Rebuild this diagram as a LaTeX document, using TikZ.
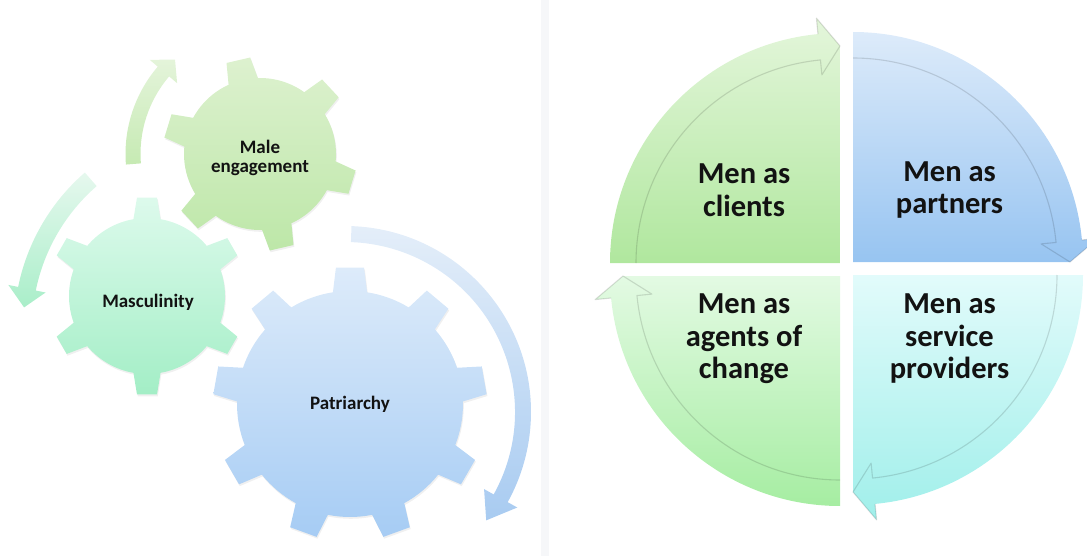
\documentclass[tikz,border=0pt]{standalone}
\usepackage{fontspec}
\setmainfont{Carlito}
\usetikzlibrary{shadows}

\definecolor{sepstrip}{HTML}{F6F7F9}
\definecolor{txt}{HTML}{121212}
% gears
\definecolor{meTop}{HTML}{DDF1CF}
\definecolor{meBot}{HTML}{BDE7A8}
\definecolor{maTop}{HTML}{DDFAEC}
\definecolor{maBot}{HTML}{A3EEC6}
\definecolor{paTop}{HTML}{DDEBFA}
\definecolor{paBot}{HTML}{A6CCF4}
% arrows beside the gears
\definecolor{meArTop}{HTML}{E4F4DA}
\definecolor{meArBot}{HTML}{C6EAB3}
\definecolor{maArTop}{HTML}{E6F8EE}
\definecolor{maArBot}{HTML}{A9EEC9}
\definecolor{paArTop}{HTML}{E4EEF9}
\definecolor{paArBot}{HTML}{A8CBF1}
% quadrants
\definecolor{q1Top}{HTML}{E4F6DB}
\definecolor{q1Bot}{HTML}{B0E79E}
\definecolor{q2Top}{HTML}{DDEBFA}
\definecolor{q2Bot}{HTML}{97C4F1}
\definecolor{q3Top}{HTML}{E2FBFB}
\definecolor{q3Bot}{HTML}{A0EFEA}
\definecolor{q4Top}{HTML}{E3FAE3}
\definecolor{q4Bot}{HTML}{A6EDA2}

\tikzset{
  gearlabel/.style={font=\bfseries\fontsize{19}{19}\selectfont, text=txt, align=center, inner sep=0pt},
  quadlabel/.style={font=\bfseries\fontsize{30.5}{32.5}\selectfont, text=txt, align=center, inner sep=0pt},
  rimline/.style={draw=black, draw opacity=0.13, line width=1.1pt, line join=round},
  gearshadow/.style={drop shadow={opacity=0.12, shadow xshift=0.8pt, shadow yshift=-1.8pt}},
}

% gear: centre x, centre y, teeth, tip radius, root radius,
% tip half-angle, root half-angle, first tooth angle, fill options
\newcommand{\gearshape}[9]{%
  \begin{scope}[shift={(#1,#2)}]
    \path[#9] ({#8-#7}:#5)
      \foreach \k [evaluate=\k as \th using {#8+(\k-1)*360/#3}] in {1,...,#3} {
        -- ({\th-#6}:#4) -- ({\th+#6}:#4) -- ({\th+#7}:#5)
        arc[start angle={\th+#7}, end angle={\th+360/#3-#7}, radius=#5]
      } -- cycle;
  \end{scope}}

% curved block arrow: centre x, centre y, mid radius, half band,
% half head, tail angle, head back angle, tip angle, fill options
\newcommand{\bentarrow}[9]{%
  \begin{scope}[shift={(#1,#2)}]
    \path[#9] ({#6}:{#3+#4}) arc[start angle={#6}, end angle={#7}, radius={#3+#4}]
      -- ({#7}:{#3+#5}) -- ({#8}:{#3}) -- ({#7}:{#3-#5}) -- ({#7}:{#3-#4})
      arc[start angle={#7}, end angle={#6}, radius={#3-#4}] -- cycle;
  \end{scope}}

% quadrant with a rim arrow: corner x, corner y, start angle, end angle, fill options
\newcommand{\quadrant}[5]{%
  \begin{scope}[shift={(#1,#2)}]
    \path[#5] (0,0) -- ({#3}:230) arc[start angle={#3}, end angle={#4+5.5}, radius=230]
      -- ({#4+5.5}:246) -- ({#4}:217) -- cycle;
    \draw[rimline] ({#3}:204) arc[start angle={#3}, end angle={#4+5.5}, radius=204]
      -- ({#4+5.5}:189) -- ({#4}:217) -- ({#4+5.5}:246) -- ({#4+5.5}:230);
  \end{scope}}

\begin{document}
\begin{tikzpicture}[x=1pt,y=1pt]
  \useasboundingbox (0,0) rectangle (1087,-556);
  \clip (0,0) rectangle (1087,-556);
  \fill[sepstrip] (541,0) rectangle (549,-556);

  % ---- gears and their turning arrows ----
  \bentarrow{260}{-154}{127}{7.5}{18}{184.5}{139.5}{132}{top color=meArTop, bottom color=meArBot}
  \bentarrow{220}{-328}{197}{9}{19}{131}{168.5}{174}{top color=maArTop, bottom color=maArBot}
  \bentarrow{345}{-412}{178}{8}{19}{88}{-29}{-37.5}{top color=paArTop, bottom color=paArBot}

  \gearshape{260}{-154}{6}{97}{76}{7.2}{11.4}{43}{gearshadow, top color=meTop, bottom color=meBot}
  \gearshape{147}{-296}{6}{99}{78}{5.8}{10}{90}{gearshadow, top color=maTop, bottom color=maBot}
  \gearshape{350}{-404}{9}{137}{113}{5.9}{8.7}{90}{gearshadow, top color=paTop, bottom color=paBot}

  \node[gearlabel] (male) at (260,-158) {Male\\engagement};
  \node[gearlabel] (masc) at (148,-302) {Masculinity};
  \node[gearlabel] (patr) at (350,-404) {Patriarchy};

  % ---- four roles around the cycle ----
  \quadrant{840}{-263}{180}{90}{top color=q1Top, bottom color=q1Bot}
  \quadrant{853}{-262}{90}{0}{top color=q2Top, bottom color=q2Bot}
  \quadrant{853}{-275}{0}{-90}{top color=q3Top, bottom color=q3Bot}
  \quadrant{840}{-276}{-90}{-180}{top color=q4Top, bottom color=q4Bot}

  \node[quadlabel] (clients)   at (744,-190)   {Men as\\clients};
  \node[quadlabel] (partners)  at (949.5,-190) {Men as\\partners};
  \node[quadlabel] (agents)    at (744,-339)   {Men as\\agents of\\change};
  \node[quadlabel] (providers) at (949.5,-339) {Men as\\service\\providers};
\end{tikzpicture}
\end{document}
